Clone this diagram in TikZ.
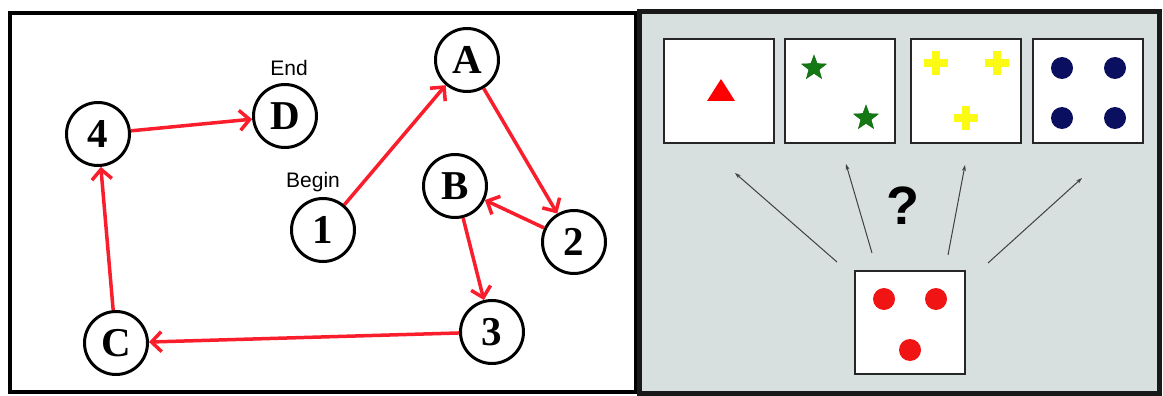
\documentclass[tikz,border=0pt]{standalone}
\usepackage{fontspec}
\setmainfont{Liberation Serif}
\newfontfamily\sansf{Liberation Sans}
\usetikzlibrary{arrows.meta,shapes.geometric}
\definecolor{panelgray}{RGB}{216,223,223}
\definecolor{arrred}{RGB}{250,30,45}
\definecolor{stargreen}{RGB}{20,120,20}
\definecolor{plusyellow}{RGB}{250,250,20}
\definecolor{dotblue}{RGB}{10,15,95}
\definecolor{dotred}{RGB}{240,20,20}
\tikzset{
  nd/.style={circle,draw=black,line width=3pt,fill=white,minimum size=63pt,inner sep=0pt,
    font=\fontsize{41}{41}\selectfont\bfseries},
  lbl/.style={font=\sansf\fontsize{21}{21}\selectfont,inner sep=0pt},
  redarr/.style={draw=arrred,line width=3.5pt,-{Straight Barb[length=10pt,width=20pt,line width=3.5pt]}},
  card/.style={draw=black!85,line width=2pt,fill=white,minimum width=110pt,minimum height=103pt,inner sep=0pt},
  thinarr/.style={draw=black!75,line width=1pt,-{Stealth[length=6pt,width=4pt]}},
  dot/.style={circle,inner sep=0pt,minimum size=22pt},
  greenstar/.style={star,star points=5,star point ratio=2.4,fill=stargreen,draw=black!60!green,line width=0.4pt,minimum size=26pt,inner sep=0pt}
}
\begin{document}
\begin{tikzpicture}[x=1pt,y=-1pt]
\useasboundingbox (0,0) rectangle (1163,396);
\fill[white] (0,0) rectangle (1163,396);
% left panel
\draw[line width=4pt] (10,13) rectangle (636,392);
% right panel
\filldraw[fill=panelgray,draw=black!90,line width=5pt] (639,12) rectangle (1159,393);
% graph nodes
\node[nd] (A) at (467,60) {A};
\node[nd] (D) at (285,116) {D};
\node[nd] (n4) at (98,134) {4};
\node[nd] (n1) at (323,230) {1};
\node[nd] (B) at (455,186) {B};
\node[nd] (n2) at (574,242) {2};
\node[nd] (n3) at (492,332) {3};
\node[nd] (C) at (116,343) {C};
\node[lbl] (end) at (289,68) {End};
\node[lbl] (begin) at (313,182) {Begin};
% red arrows
\draw[redarr] (n1) -- (A);
\draw[redarr] (A) -- (n2);
\draw[redarr] (n2) -- (B);
\draw[redarr] (B) -- (n3);
\draw[redarr] (n3) -- (C);
\draw[redarr] (C) -- (n4);
\draw[redarr] (n4) -- (D);
% cards
\node[card] (c1) at (719,91) {};
\node[card] (c2) at (840,91) {};
\node[card] (c3) at (966,91) {};
\node[card] (c4) at (1088,91) {};
\node[card] (c5) at (910,322) {};
% card 1: triangle
\fill[red] (707,101) -- (735,101) -- (721,79) -- cycle;
% card 2: stars
\node[greenstar] (s1) at (814,68) {};
\node[greenstar] (s2) at (866,118) {};
% card 3: plus signs
\foreach \px/\py in {936/63,997/63,966/118}{
  \fill[plusyellow] (\px-12,\py-4) rectangle (\px+12,\py+4);
  \fill[plusyellow] (\px-4,\py-12) rectangle (\px+4,\py+12);
}
% card 4: blue dots
\node[dot,fill=dotblue] (b1) at (1062,68) {};
\node[dot,fill=dotblue] (b2) at (1115,68) {};
\node[dot,fill=dotblue] (b3) at (1062,118) {};
\node[dot,fill=dotblue] (b4) at (1115,118) {};
% card 5: red dots
\node[dot,fill=dotred] (r1) at (884,299) {};
\node[dot,fill=dotred] (r2) at (936,299) {};
\node[dot,fill=dotred] (r3) at (910,350) {};
% question mark
\node[font=\sansf\bfseries\fontsize{54}{54}\selectfont,inner sep=0pt] (q) at (903,206) {?};
% thin arrows
\coordinate (f1) at (837,262);
\coordinate (t1) at (735,173);
\coordinate (f2) at (872,253);
\coordinate (t2) at (846,164);
\coordinate (f3) at (948,255);
\coordinate (t3) at (965,165);
\coordinate (f4) at (988,263);
\coordinate (t4) at (1082,178);
\draw[thinarr] (f1) -- (t1);
\draw[thinarr] (f2) -- (t2);
\draw[thinarr] (f3) -- (t3);
\draw[thinarr] (f4) -- (t4);
\end{tikzpicture}
\end{document}
